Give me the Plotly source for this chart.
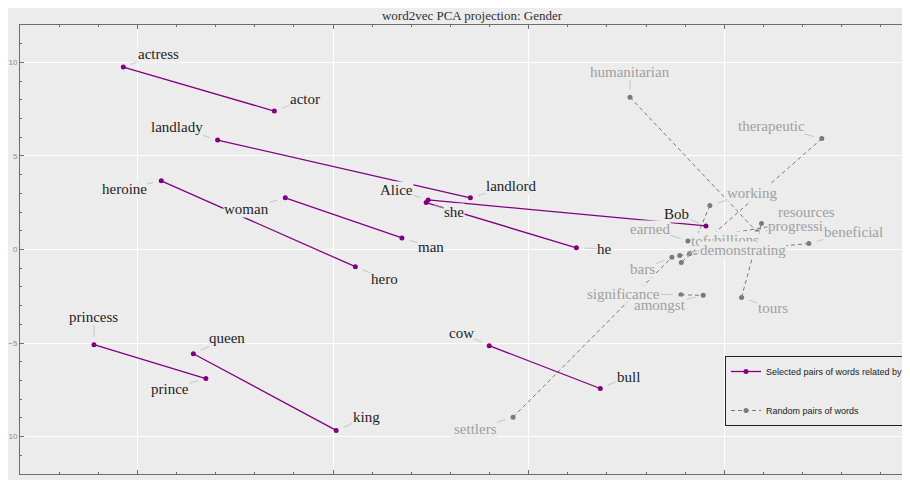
import plotly.graph_objects as go

# ---------------- data ----------------
gender_words = ["actress", "actor", "landlady", "landlord", "heroine", "hero",
                "woman", "man", "Alice", "Bob", "she", "he",
                "princess", "prince", "queen", "king", "cow", "bull"]
gender_x = [-10.36, -6.50, -7.95, -1.49, -9.39, -4.43,
            -6.22, -3.24, -2.57, 4.53, -2.62, 1.22,
            -11.11, -8.25, -8.57, -4.92, -1.01, 1.83]
gender_y = [9.75, 7.40, 5.85, 2.76, 3.67, -0.92,
            2.76, 0.62, 2.65, 1.26, 2.51, 0.09,
            -5.09, -6.90, -5.57, -9.67, -5.14, -7.43]

random_words = ["humanitarian", "progressing", "therapeutic", "tofu",
                "working", "demonstrating", "tours", "resources",
                "earned", "", "beneficial", "billions",
                "settlers", "bars", "significance", "amongst"]
random_x = [2.59, 5.84, 7.49, 3.90,
            4.63, 4.11, 5.44, 5.95,
            4.07, 6.23, 7.16, 3.86,
            -0.40, 3.66, 3.89, 4.46]
random_y = [8.14, 0.93, 5.93, -0.69,
            2.35, -0.23, -2.56, 1.39,
            0.46, 1.26, 0.32, -0.32,
            -8.96, -0.41, -2.42, -2.45]

x_ticks = [-10, -5, 0, 5]
y_ticks = [-10, -5, 0, 5, 10]

# ---------------- label placement (pixel offsets) ----------------
label_offsets = {
    "actress": (35, -13), "actor": (31, -12), "landlady": (-41, -13),
    "landlord": (41, -12), "heroine": (-37, 8), "hero": (29, 12),
    "woman": (-39, 11), "man": (29, 9), "Alice": (-32, -10), "Bob": (-29, -12),
    "she": (28, 9), "he": (28, 1), "princess": (0, -28), "prince": (-36, 10),
    "queen": (34, -16), "king": (30, -13), "cow": (-28, -13), "bull": (28, -12),
    "humanitarian": (0, -25), "therapeutic": (-50, -13), "working": (42, -13),
    "resources": (45, -12), "progressing": (46, -6), "beneficial": (45, -12),
    "earned": (-38, -12), "bars": (-29, 12), "tofu": (22, -21),
    "billions": (57, -15), "demonstrating": (53, -4), "significance": (-57, -1),
    "amongst": (-43, 10), "tours": (31, 11), "settlers": (-38, 12),
}
# drawing order of the gray labels (later ones are on top)
gray_label_order = ["humanitarian", "therapeutic", "working", "resources", "progressing",
                    "beneficial", "earned", "tofu", "billions", "demonstrating",
                    "bars", "amongst", "significance", "tours", "settlers"]

PURPLE = "#800080"
GRAY = "#7a7a7a"
BG = "#ececec"


def segs(xs, ys):
    sx, sy = [], []
    for i in range(0, len(xs), 2):
        sx += [xs[i], xs[i + 1], None]
        sy += [ys[i], ys[i + 1], None]
    return sx, sy


fig = go.Figure()
gx, gy = segs(gender_x, gender_y)
rx, ry = segs(random_x, random_y)

fig.add_trace(go.Scatter(
    x=rx, y=ry, mode="lines+markers",
    name="Random pairs of words",
    line=dict(color=GRAY, width=1, dash="4px,3px"),
    marker=dict(color=GRAY, size=5),
    legendgroup="b", legendrank=2,
))
fig.add_trace(go.Scatter(
    x=gx, y=gy, mode="lines+markers",
    name="Selected pairs of words related by gender",
    line=dict(color=PURPLE, width=1.3),
    marker=dict(color=PURPLE, size=5),
    legendgroup="a", legendrank=1,
))

annotations = []


def add_label(word, x, y, color):
    if not word:
        return
    dx, dy = label_offsets[word]
    annotations.append(dict(
        x=x, y=y, xref="x", yref="y", ax=dx, ay=dy,
        text=word, showarrow=True, arrowhead=0, arrowwidth=0.7,
        arrowcolor="#b4b4b4", standoff=8,
        font=dict(family="Liberation Serif", size=15, color=color),
        bgcolor=BG, borderpad=0,
    ))


for w, x, y in zip(gender_words, gender_x, gender_y):
    add_label(w, x, y, "#1e1e1e")

rand = {w: (x, y) for w, x, y in zip(random_words, random_x, random_y)}
for w in gray_label_order:
    add_label(w, rand[w][0], rand[w][1], "#a0a0a0")

W, H = 998, 490
L, R, T, B = 12, 8, 17, 24
PW, PH = W - L - R, H - T - B

axis_common = dict(
    showline=True, linecolor="#6e6e6e", linewidth=1, mirror="allticks",
    ticks="inside", ticklen=4, tickcolor="#6e6e6e", tickwidth=1,
    showgrid=True, gridcolor="#ffffff", gridwidth=1, zeroline=False,
    tickfont=dict(family="Liberation Sans", size=8, color="#8c8c8c"),
    minor=dict(dtick=1, ticks="inside", ticklen=2, tickcolor="#6e6e6e", showgrid=False),
    automargin=False,
)

fig.update_layout(
    width=W, height=H,
    margin=dict(l=L, r=R, t=T, b=B, autoexpand=False),
    paper_bgcolor=BG, plot_bgcolor=BG,
    title=dict(text="word2vec PCA projection: Gender",
               font=dict(family="Liberation Serif", size=13, color="#303030"),
               x=(464 - L) / PW, xref="paper", xanchor="center",
               y=1 - 7 / H, yref="container", yanchor="middle"),
    xaxis=dict(range=[-13.0, -13.0 + PW / 39.13], tickvals=x_ticks, **axis_common),
    yaxis=dict(range=[-12, 12], tickvals=y_ticks, **axis_common),
    showlegend=True,
    legend=dict(x=(717 - L) / PW, y=(H - B - 348) / PH, xanchor="left", yanchor="top",
                bgcolor=BG, bordercolor="#222222", borderwidth=1,
                font=dict(family="Liberation Sans", size=9, color="#222222"),
                tracegroupgap=20, traceorder="grouped",
                entrywidth=260, entrywidthmode="pixels"),
    annotations=annotations,
)

fig.write_html("out.html",
               post_script="document.body.style.overflow='hidden';")
